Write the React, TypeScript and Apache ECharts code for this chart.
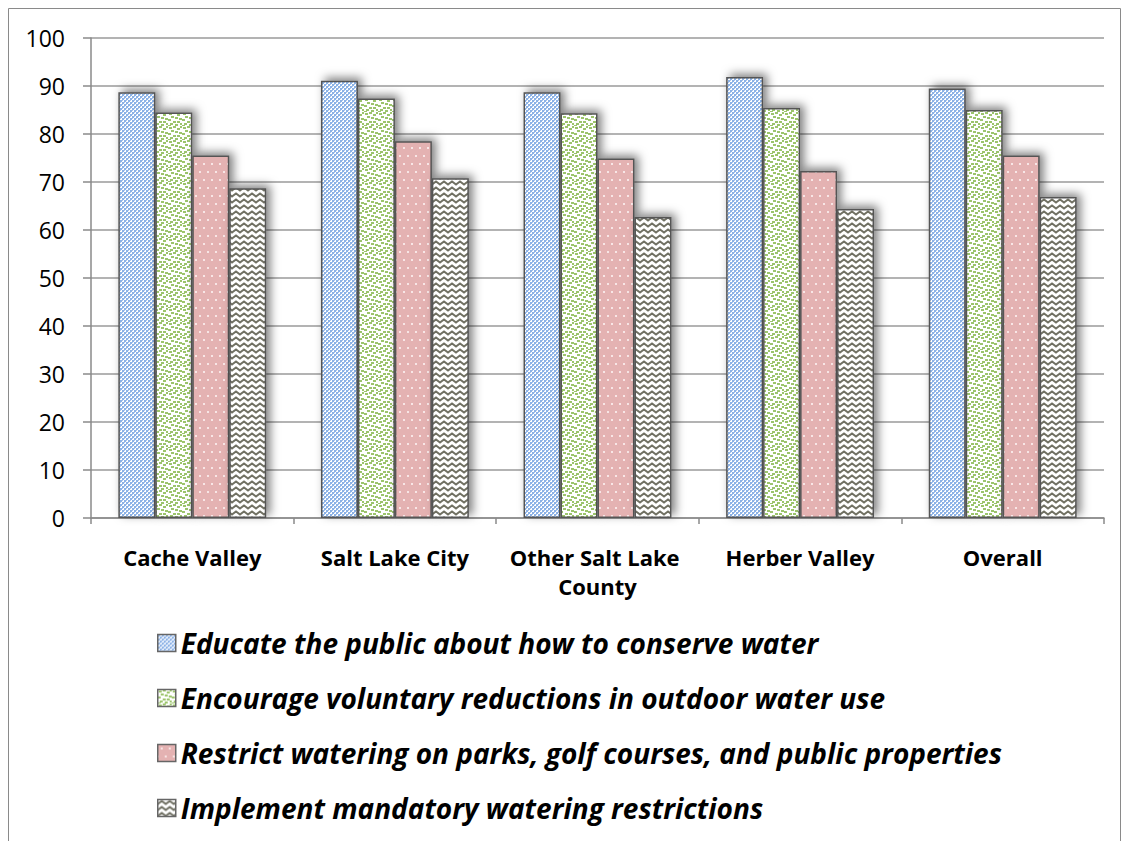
import React, { useEffect, useRef } from "react";
import * as echarts from "echarts";

const categories = ["Cache Valley", "Salt Lake City", "Other Salt Lake County", "Herber Valley", "Overall"];
const seriesNames = [
  "Educate the public about how to conserve water",
  "Encourage voluntary reductions in outdoor water use",
  "Restrict watering on parks, golf courses, and public properties",
  "Implement mandatory watering restrictions",
];
const educate = [88.7, 91.1, 88.7, 91.9, 89.5];
const encourage = [84.5, 87.4, 84.3, 85.4, 85.0];
const restrict = [75.5, 78.5, 74.9, 72.3, 75.5];
const mandatory = [68.7, 70.8, 62.7, 64.4, 66.9];
const yTicks = { min: 0, max: 100, interval: 10 };

type Painter = (ctx: CanvasRenderingContext2D) => void;

function tile(w: number, h: number, paint: Painter) {
  const c = document.createElement("canvas");
  c.width = w;
  c.height = h;
  const ctx = c.getContext("2d") as CanvasRenderingContext2D;
  paint(ctx);
  return { image: c.toDataURL(), repeat: "repeat", imageWidth: w, imageHeight: h } as any;
}

function makePatterns() {
  // small checkerboard, blue on white
  const checker = tile(4, 4, (ctx) => {
    ctx.fillStyle = "#ffffff";
    ctx.fillRect(0, 0, 4, 4);
    ctx.fillStyle = "#8cb2e6";
    ctx.fillRect(0, 0, 2, 2);
    ctx.fillRect(2, 2, 2, 2);
    ctx.fillStyle = "#a9c6ee";
    ctx.fillRect(2, 0, 1, 1);
    ctx.fillRect(0, 2, 1, 1);
  });
  // green confetti
  const confetti = tile(14, 14, (ctx) => {
    ctx.fillStyle = "#ffffff";
    ctx.fillRect(0, 0, 14, 14);
    ctx.fillStyle = "#9cc46c";
    const dots = [
      [1, 1], [5, 0], [9, 2], [12, 0], [3, 4], [7, 5], [11, 6], [0, 7],
      [5, 9], [9, 9], [2, 11], [12, 11], [7, 12], [0, 13],
    ];
    dots.forEach(([x, y]) => ctx.fillRect(x, y, 3, 2));
  });
  // pink with small white dots
  const dotted = tile(8, 16, (ctx) => {
    ctx.fillStyle = "#e4b2b2";
    ctx.fillRect(0, 0, 8, 16);
    ctx.fillStyle = "#f8e6e6";
    ctx.fillRect(3, 3, 2, 2);
    ctx.fillRect(7, 11, 1, 2);
    ctx.fillRect(0, 11, 1, 2);
  });
  // gray zigzag
  const zigzag = tile(8, 6, (ctx) => {
    ctx.fillStyle = "#ffffff";
    ctx.fillRect(0, 0, 8, 6);
    ctx.strokeStyle = "#6f6f62";
    ctx.lineWidth = 1.9;
    ctx.beginPath();
    ctx.moveTo(-4, 1.5);
    ctx.lineTo(0, 4.5);
    ctx.lineTo(4, 1.5);
    ctx.lineTo(8, 4.5);
    ctx.lineTo(12, 1.5);
    ctx.stroke();
  });
  return [checker, confetti, dotted, zigzag];
}

export default function App() {
  const ref = useRef<HTMLDivElement>(null);

  useEffect(() => {
    if (!ref.current) return;
    const chart = echarts.init(ref.current, undefined, { renderer: "svg" });
    const patterns = makePatterns();
    const values = [educate, encourage, restrict, mandatory];

    const series = seriesNames.map((name, i) => ({
      name,
      type: "bar",
      data: values[i],
      barGap: "0%",
      barCategoryGap: "27%",
      itemStyle: {
        color: patterns[i],
        borderColor: "#555555",
        borderWidth: 1.5,
        shadowBlur: 10,
        shadowColor: "rgba(0,0,0,0.5)",
        shadowOffsetX: 4,
        shadowOffsetY: -3,
      },
      emphasis: { disabled: true },
    }));

    chart.setOption({
      animation: false,
      backgroundColor: "#ffffff",
      textStyle: { fontFamily: "Open Sans" },
      graphic: [
        {
          type: "rect",
          shape: { x: 8.5, y: 8.5, width: 1112, height: 900 },
          style: { fill: "none", stroke: "#8a8a8a", lineWidth: 1 },
          silent: true,
        },
      ],
      grid: { left: 91, top: 38, right: 19, bottom: 323 },
      xAxis: {
        type: "category",
        data: categories,
        axisLine: { lineStyle: { color: "#8a8a8a", width: 1.5 } },
        axisTick: { show: true, length: 6, lineStyle: { color: "#8a8a8a", width: 1.5 } },
        axisLabel: {
          color: "#000000",
          fontFamily: "Open Sans",
          fontWeight: "bold",
          fontSize: 22,
          margin: 24,
          lineHeight: 29,
          width: 185,
          overflow: "break",
          interval: 0,
        },
      },
      yAxis: {
        type: "value",
        min: yTicks.min,
        max: yTicks.max,
        interval: yTicks.interval,
        axisLine: { show: true, lineStyle: { color: "#8a8a8a", width: 1.5 } },
        axisTick: { show: true, length: 8, lineStyle: { color: "#8a8a8a", width: 1.5 } },
        splitLine: { lineStyle: { color: "#9a9a9a", width: 1.5 } },
        axisLabel: { color: "#000000", fontFamily: "Open Sans", fontSize: 23, margin: 26 },
      },
      legend: {
        orient: "vertical",
        left: 152,
        top: 622,
        itemWidth: 18,
        itemHeight: 17,
        itemGap: 23,
        icon: "rect",
        itemStyle: { borderColor: "#666666", borderWidth: 1.5, shadowBlur: 0, shadowColor: "transparent" },
        textStyle: {
          color: "#000000",
          fontFamily: "Open Sans",
          fontWeight: "bold",
          fontStyle: "italic",
          fontSize: 28,
          lineHeight: 32,
        },
        selectedMode: false,
      },
      series,
    });

    return () => chart.dispose();
  }, []);

  return (
    <div
      ref={ref}
      style={{ position: "fixed", left: 0, top: 0, width: 1123, height: 841 }}
    />
  );
}
